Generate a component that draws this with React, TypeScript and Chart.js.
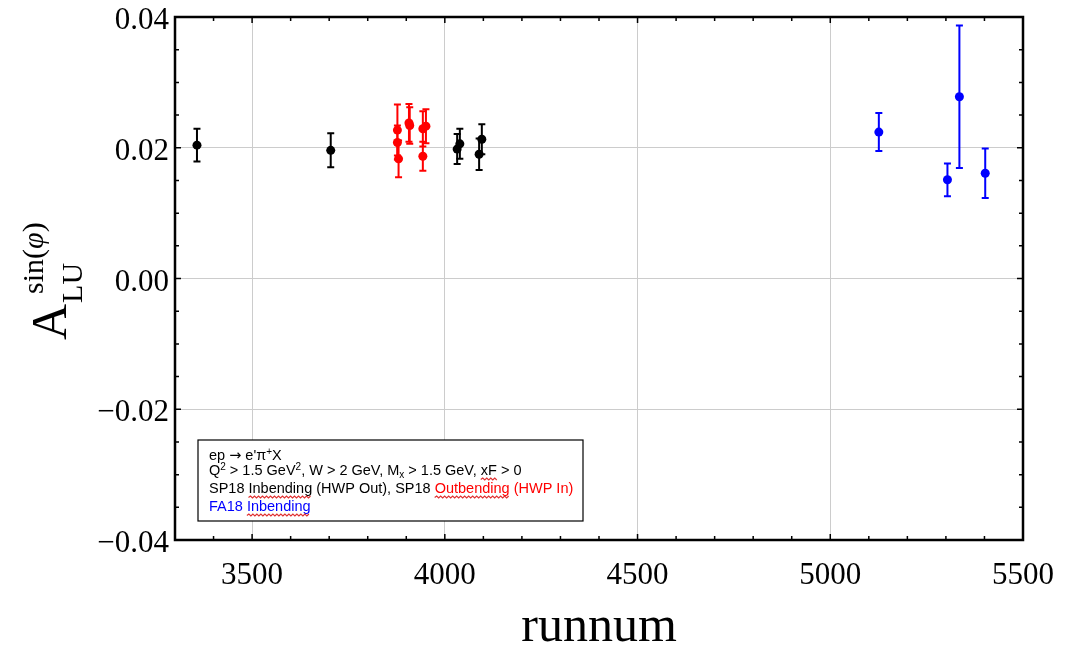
import React, { useEffect, useRef } from 'react';
import { Chart, registerables } from 'chart.js';

Chart.register(...registerables);

// ---- data ----
const blackRuns = [3357, 3704, 4032, 4039, 4089, 4096];
const blackVals = [0.0204, 0.0196, 0.0198, 0.0206, 0.019, 0.0213];
const blackErrs = [0.0025, 0.0026, 0.0023, 0.0023, 0.0024, 0.0023];

const redRuns = [3877, 3877, 3880, 3907, 3909, 3943, 3943, 3951];
const redVals = [0.0227, 0.0208, 0.0183, 0.0238, 0.0234, 0.0187, 0.0229, 0.0233];
const redErrs = [0.0039, 0.0026, 0.0028, 0.0029, 0.0028, 0.0022, 0.0027, 0.0026];

const blueRuns = [5126, 5304, 5335, 5402];
const blueVals = [0.0224, 0.0151, 0.0278, 0.0161];
const blueErrs = [0.0029, 0.0025, 0.0109, 0.0038];

const xTickValues = [3500, 4000, 4500, 5000, 5500];
const yTickValues = [-0.04, -0.02, 0, 0.02, 0.04];
const xMin = 3300;
const xMax = 5500;
const yMin = -0.04;
const yMax = 0.04;
const xMinorStep = 100;
const yMinorStep = 0.005;

type Seg = { t: string; color?: string; sup?: boolean; sub?: boolean; squiggle?: boolean; fam?: string };
const legendLines: Seg[][] = [
  [{ t: 'ep ' }, { t: '→', fam: '"DejaVu Sans"' }, { t: " e'π" }, { t: '+', sup: true }, { t: 'X' }],
  [
    { t: 'Q' }, { t: '2', sup: true }, { t: ' > 1.5 GeV' }, { t: '2', sup: true },
    { t: ', W > 2 GeV, M' }, { t: 'x', sub: true }, { t: ' > 1.5 GeV, ' },
    { t: 'xF', squiggle: true }, { t: ' > 0' },
  ],
  [
    { t: 'SP18 ' }, { t: 'Inbending', squiggle: true }, { t: ' (HWP Out), SP18 ' },
    { t: 'Outbending', color: '#ff0000', squiggle: true }, { t: ' (HWP In)', color: '#ff0000' },
  ],
  [{ t: 'FA18 ', color: '#0000ff' }, { t: 'Inbending', color: '#0000ff', squiggle: true }],
];

const seriesColors = ['#000000', '#ff0000', '#0000ff'];
const errorSets = [blackErrs, redErrs, blueErrs];

function pts(xs: number[], ys: number[]) {
  return xs.map((x, i) => ({ x, y: ys[i] }));
}

const errorBarPlugin = {
  id: 'errorBars',
  beforeDatasetsDraw(chart: any) {
    const { ctx, scales } = chart;
    const xs = scales.x;
    const ys = scales.y;
    chart.data.datasets.forEach((ds: any, i: number) => {
      const errs = errorSets[i];
      ctx.save();
      ctx.strokeStyle = seriesColors[i];
      ctx.lineWidth = 2;
      ds.data.forEach((p: any, j: number) => {
        const px = xs.getPixelForValue(p.x);
        const yt = ys.getPixelForValue(p.y + errs[j]);
        const yb = ys.getPixelForValue(p.y - errs[j]);
        ctx.beginPath();
        ctx.moveTo(px, yt);
        ctx.lineTo(px, yb);
        ctx.moveTo(px - 3.5, yt);
        ctx.lineTo(px + 3.5, yt);
        ctx.moveTo(px - 3.5, yb);
        ctx.lineTo(px + 3.5, yb);
        ctx.stroke();
      });
      ctx.restore();
    });
  },
};

function drawSquiggle(ctx: CanvasRenderingContext2D, x0: number, x1: number, y: number) {
  ctx.save();
  ctx.strokeStyle = '#e03030';
  ctx.lineWidth = 1.1;
  ctx.beginPath();
  let up = true;
  ctx.moveTo(x0, y);
  for (let x = x0 + 2; x <= x1; x += 2) {
    ctx.lineTo(x, up ? y - 1.5 : y + 0.5);
    up = !up;
  }
  ctx.stroke();
  ctx.restore();
}

const framePlugin = {
  id: 'frame',
  afterDraw(chart: any) {
    const { ctx, chartArea, scales } = chart;
    const xs = scales.x;
    const ys = scales.y;
    const { left, right, top, bottom } = chartArea;
    ctx.save();
    // inward ticks
    ctx.strokeStyle = '#000';
    ctx.lineWidth = 1.5;
    ctx.beginPath();
    for (let v = xMin; v <= xMax + 1e-9; v += xMinorStep) {
      const px = xs.getPixelForValue(v);
      const major = xTickValues.includes(Math.round(v));
      const len = major ? 6 : 4;
      ctx.moveTo(px, bottom);
      ctx.lineTo(px, bottom - len);
      ctx.moveTo(px, top);
      ctx.lineTo(px, top + len);
    }
    for (let k = 0; k <= Math.round((yMax - yMin) / yMinorStep); k++) {
      const v = yMin + k * yMinorStep;
      const py = ys.getPixelForValue(v);
      const major = k % 4 === 0;
      const len = major ? 6 : 4;
      ctx.moveTo(left, py);
      ctx.lineTo(left + len, py);
      ctx.moveTo(right, py);
      ctx.lineTo(right - len, py);
    }
    ctx.stroke();
    // border
    ctx.lineWidth = 2.5;
    ctx.strokeRect(left, top, right - left, bottom - top);

    // legend box
    const bx = 198, by = 440, bw = 385, bh = 81;
    ctx.fillStyle = '#ffffff';
    ctx.fillRect(bx, by, bw, bh);
    ctx.lineWidth = 1.2;
    ctx.strokeStyle = '#000';
    ctx.strokeRect(bx, by, bw, bh);
    const baselines = [460, 475, 493, 511];
    ctx.textBaseline = 'alphabetic';
    ctx.textAlign = 'left';
    legendLines.forEach((segs, li) => {
      let cx = 209;
      const by0 = baselines[li];
      segs.forEach((s) => {
        const small = s.sup || s.sub;
        const fam = s.fam || '"Liberation Sans", Arial, sans-serif';
        ctx.font = (small ? '10px ' : '14.5px ') + fam;
        ctx.fillStyle = s.color || '#000';
        const dy = s.sup ? -5.5 : s.sub ? 3 : 0;
        ctx.fillText(s.t, cx, by0 + dy);
        const w = ctx.measureText(s.t).width;
        if (s.squiggle) drawSquiggle(ctx, cx, cx + w, by0 + 4.5);
        cx += w;
      });
    });

    // x title
    ctx.fillStyle = '#000';
    ctx.font = '50px "Liberation Serif", serif';
    ctx.textAlign = 'center';
    ctx.textBaseline = 'alphabetic';
    ctx.fillText('runnum', (left + right) / 2, 641);

    // y title (rotated)
    ctx.save();
    ctx.translate(66, 340);
    ctx.rotate(-Math.PI / 2);
    ctx.textAlign = 'left';
    ctx.font = '50px "Liberation Serif", serif';
    ctx.fillText('A', 0, 0);
    const aw = ctx.measureText('A').width;
    ctx.font = '30px "Liberation Serif", serif';
    ctx.fillText('LU', aw + 1, 16);
    const sx = aw + 10;
    ctx.fillText('sin(', sx, -23);
    const sw = ctx.measureText('sin(').width;
    ctx.font = 'italic 30px "Liberation Serif", serif';
    ctx.fillText('φ', sx + sw, -23);
    const pw = ctx.measureText('φ').width;
    ctx.font = '30px "Liberation Serif", serif';
    ctx.fillText(')', sx + sw + pw, -23);
    ctx.restore();

    ctx.restore();
  },
};

export default function App() {
  const ref = useRef<HTMLCanvasElement | null>(null);
  useEffect(() => {
    if (!ref.current) return;
    const chart = new Chart(ref.current, {
      type: 'scatter',
      data: {
        datasets: [
          { label: 'SP18 Inbending', data: pts(blackRuns, blackVals), backgroundColor: '#000000', borderColor: '#000000' },
          { label: 'SP18 Outbending', data: pts(redRuns, redVals), backgroundColor: '#ff0000', borderColor: '#ff0000' },
          { label: 'FA18 Inbending', data: pts(blueRuns, blueVals), backgroundColor: '#0000ff', borderColor: '#0000ff' },
        ],
      },
      options: {
        animation: false,
        responsive: false,
        devicePixelRatio: 1,
        events: [],
        layout: { padding: { left: 0, right: 53, top: 17, bottom: 0 } },
        elements: { point: { radius: 4.5, borderWidth: 0 } },
        plugins: { legend: { display: false }, tooltip: { enabled: false } },
        scales: {
          x: {
            type: 'linear',
            min: xMin,
            max: xMax,
            afterBuildTicks: (s: any) => { s.ticks = xTickValues.map((v) => ({ value: v })); },
            afterFit: (s: any) => { s.height = 106; s.paddingLeft = 0; s.paddingRight = 0; },
            grid: { color: '#cccccc', lineWidth: 1, drawTicks: false },
            border: { display: false },
            ticks: {
              color: '#000',
              padding: 17,
              maxRotation: 0,
              autoSkip: false,
              font: { family: '"Liberation Serif", serif', size: 31 },
              callback: (v: any) => String(v),
            },
          },
          y: {
            type: 'linear',
            min: yMin,
            max: yMax,
            afterBuildTicks: (s: any) => { s.ticks = yTickValues.map((v) => ({ value: v })); },
            afterFit: (s: any) => { s.width = 175; s.paddingTop = 0; s.paddingBottom = 0; },
            grid: { color: '#cccccc', lineWidth: 1, drawTicks: false },
            border: { display: false },
            ticks: {
              color: '#000',
              padding: 6,
              labelOffset: 4,
              font: { family: '"Liberation Serif", serif', size: 31 },
              callback: (v: any) => (v < 0 ? '−' : '') + Math.abs(v).toFixed(2),
            },
          },
        },
      },
      plugins: [errorBarPlugin, framePlugin],
    } as any);
    return () => chart.destroy();
  }, []);
  return (
    <div style={{ position: 'absolute', left: 0, top: 0, width: 1076, height: 646, background: '#fff' }}>
      <canvas ref={ref} width={1076} height={646} />
    </div>
  );
}
